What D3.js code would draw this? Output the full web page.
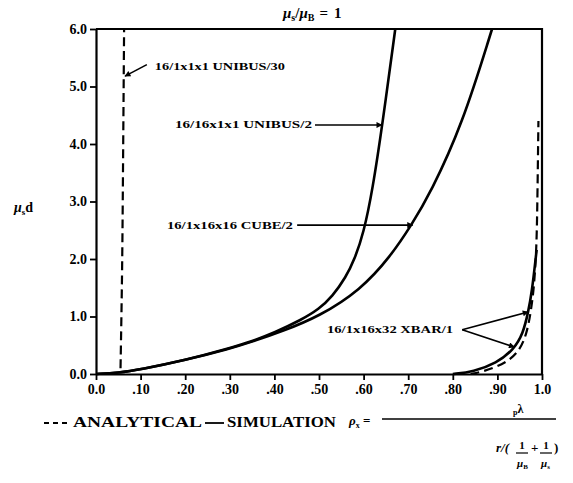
<!DOCTYPE html>
<html>
<head>
<meta charset="utf-8">
<script src="https://cdn.jsdelivr.net/npm/d3@7"></script>
<style>
  body { margin: 0; background: #fff; }
  text { font-family: "Liberation Serif", "DejaVu Serif", serif; font-weight: bold; fill: #000; }
</style>
</head>
<body>
<svg width="573" height="483"></svg>
<script>
// tick values and labels
var xTicks = [0, 0.1, 0.2, 0.3, 0.4, 0.5, 0.6, 0.7, 0.8, 0.9, 1.0];
var xTickLabels = ["0.0", ".10", ".20", ".30", ".40", ".50", ".60", ".70", ".80", ".90", "1.0"];
var yTicks = [0, 1, 2, 3, 4, 5, 6];
var yTickLabels = ["0.0", "1.0", "2.0", "3.0", "4.0", "5.0", "6.0"];

// curves: [rho, mu*d]
var unibus30Analytical = [[0.055, 0.1], [0.057, 1.0], [0.059, 2.0], [0.061, 4.0], [0.063, 6.0]];
var unibus2Sim = [[0, 0], [0.05, 0.02], [0.1, 0.08], [0.2, 0.24], [0.3, 0.45], [0.35, 0.57], [0.4, 0.72],
                  [0.46, 0.94], [0.5, 1.13], [0.53, 1.35], [0.56, 1.68], [0.58, 2.0], [0.6, 2.45],
                  [0.62, 3.2], [0.642, 4.33], [0.671, 6.0]];
var cube2Sim = [[0, 0], [0.05, 0.02], [0.1, 0.08], [0.2, 0.24], [0.3, 0.44], [0.35, 0.56], [0.42, 0.75],
                [0.5, 1.0], [0.593, 1.46], [0.66, 2.04], [0.708, 2.6], [0.75, 3.15], [0.821, 4.33], [0.888, 6.0]];
var xbarSim = [[0.8, 0], [0.846, 0.04], [0.898, 0.19], [0.936, 0.42], [0.958, 0.71], [0.969, 1.08],
               [0.977, 1.4], [0.988, 2.16]];
var xbarAnalytical = [[0.84, 0], [0.868, 0.04], [0.921, 0.19], [0.951, 0.42], [0.966, 0.71], [0.975, 1.08],
                      [0.982, 1.5], [0.988, 2.2], [0.99, 3.2], [0.992, 4.4]];

var svg = d3.select("svg");
var margin = { top: 29, right: 31, bottom: 109, left: 96 };
var width = 573, height = 483;

var x = d3.scaleLinear().domain([0, 1]).range([margin.left, width - margin.right]);
var y = d3.scaleLinear().domain([0, 6]).range([height - margin.bottom, margin.top]);

// arrow head
svg.append("defs").append("marker")
    .attr("id", "head")
    .attr("viewBox", "0 0 10 10")
    .attr("refX", 9).attr("refY", 5)
    .attr("markerWidth", 8).attr("markerHeight", 6)
    .attr("markerUnits", "userSpaceOnUse")
    .attr("orient", "auto")
    .append("path").attr("d", "M0,0L10,5L0,10z").attr("fill", "#000");

// axes
var xAxis = d3.axisBottom(x).tickValues(xTicks).tickFormat((d, i) => xTickLabels[i])
    .tickSizeInner(6).tickSizeOuter(0).tickPadding(4);
var yAxis = d3.axisLeft(y).tickValues(yTicks).tickFormat((d, i) => yTickLabels[i])
    .tickSizeInner(6).tickSizeOuter(0).tickPadding(3);

var gx = svg.append("g").attr("transform", "translate(0," + y(0) + ")").call(xAxis);
var gy = svg.append("g").attr("transform", "translate(" + x(0) + ",0)").call(yAxis);
[gx, gy].forEach(function(g) {
    g.select(".domain").attr("stroke-width", 2.2);
    g.selectAll(".tick line").attr("stroke-width", 1.8);
    g.selectAll(".tick text").style("font-size", "14px")
        .style("font-family", "'Liberation Serif', serif").style("font-weight", "bold");
});

// top and right frame lines
svg.append("path")
    .attr("d", "M" + x(0) + "," + y(6) + "H" + x(1) + "V" + y(0))
    .attr("fill", "none").attr("stroke", "#000").attr("stroke-width", 2.2);

// curves
var line = d3.line().x(d => x(d[0])).y(d => y(d[1])).curve(d3.curveBasis);

var curves = [
    { data: unibus2Sim, dashed: false },
    { data: cube2Sim, dashed: false },
    { data: xbarSim, dashed: false },
    { data: xbarAnalytical, dashed: true },
    { data: unibus30Analytical, dashed: true }
];
svg.append("g").selectAll("path").data(curves).enter().append("path")
    .attr("d", d => line(d.data))
    .attr("fill", "none")
    .attr("stroke", "#000")
    .attr("stroke-width", d => d.dashed ? 2.2 : 2.6)
    .attr("stroke-dasharray", d => d.dashed ? "9,5" : null);

// curve labels with arrows (positions in data units)
var labels = [
    { text: "16/1x1x1 UNIBUS/30", x: 0.132, y: 5.29, w: 130, arrows: [[0.114, 5.38, 0.065, 5.18]] },
    { text: "16/16x1x1 UNIBUS/2", x: 0.177, y: 4.27, w: 137, arrows: [[0.491, 4.33, 0.641, 4.33]] },
    { text: "16/1x16x16 CUBE/2", x: 0.159, y: 2.53, w: 126, arrows: [[0.451, 2.59, 0.71, 2.59]] },
    { text: "16/1x16x32 XBAR/1", x: 0.518, y: 0.71, w: 126,
      arrows: [[0.821, 0.77, 0.969, 1.08], [0.821, 0.77, 0.938, 0.47]] }
];
labels.forEach(function(l) {
    svg.append("text")
        .attr("x", x(l.x)).attr("y", y(l.y))
        .attr("textLength", l.w).attr("lengthAdjust", "spacingAndGlyphs")
        .style("font-size", "11px")
        .text(l.text);
    l.arrows.forEach(function(a) {
        svg.append("line")
            .attr("x1", x(a[0])).attr("y1", y(a[1]))
            .attr("x2", x(a[2])).attr("y2", y(a[3]))
            .attr("stroke", "#000").attr("stroke-width", 1.6)
            .attr("marker-end", "url(#head)");
    });
});

// title
var title = svg.append("text").attr("x", 283).attr("y", 18).style("font-size", "15px");
title.append("tspan").style("font-style", "italic").text("μ");
title.append("tspan").attr("dy", 3).style("font-size", "10px").text("s");
title.append("tspan").attr("dy", -3).text("/");
title.append("tspan").style("font-style", "italic").text("μ");
title.append("tspan").attr("dy", 3).style("font-size", "10px").text("B");
title.append("tspan").attr("dy", -3).attr("dx", 5).text("=");
title.append("tspan").attr("dx", 6).text("1");

// y label
var ylab = svg.append("text").attr("x", 14).attr("y", 212).style("font-size", "14px");
ylab.append("tspan").style("font-style", "italic").text("μ");
ylab.append("tspan").attr("dy", 3).style("font-size", "9px").text("s");
ylab.append("tspan").attr("dy", -3).text("d");

// legend
var ly = 427;
svg.append("line").attr("x1", 44).attr("x2", 70).attr("y1", ly - 4).attr("y2", ly - 4)
    .attr("stroke", "#000").attr("stroke-width", 1.8).attr("stroke-dasharray", "5,4");
svg.append("text").attr("x", 73).attr("y", ly).attr("textLength", 129).attr("lengthAdjust", "spacingAndGlyphs")
    .style("font-size", "15px").text("ANALYTICAL");
svg.append("line").attr("x1", 205).attr("x2", 224).attr("y1", ly - 4).attr("y2", ly - 4)
    .attr("stroke", "#000").attr("stroke-width", 1.8);
svg.append("text").attr("x", 227).attr("y", ly).attr("textLength", 109).attr("lengthAdjust", "spacingAndGlyphs")
    .style("font-size", "15px").text("SIMULATION");

// formula rho_x = p lambda / (r/(1/mu_B + 1/mu_s))
var rho = svg.append("text").attr("x", 349).attr("y", ly - 2).style("font-size", "13px");
rho.append("tspan").style("font-style", "italic").text("ρ");
rho.append("tspan").attr("dy", 3).style("font-size", "8px").text("x");
rho.append("tspan").attr("dy", -3).text(" =");
svg.append("line").attr("x1", 382).attr("x2", 556).attr("y1", 419).attr("y2", 419)
    .attr("stroke", "#000").attr("stroke-width", 1.5);
var num = svg.append("text").attr("x", 513).attr("y", 413).style("font-size", "12px");
num.append("tspan").attr("dy", 2).style("font-size", "8px").text("p");
num.append("tspan").attr("dy", -2).text("λ");
svg.append("text").attr("x", 496).attr("y", 452).style("font-size", "13px")
    .style("font-style", "italic").text("r/(");
svg.append("text").attr("x", 531).attr("y", 452).style("font-size", "13px").text("+");
svg.append("text").attr("x", 554).attr("y", 452).style("font-size", "13px").text(")");
[["B", 522], ["s", 546]].forEach(function(f) {
    svg.append("text").attr("x", f[1]).attr("y", 449).attr("text-anchor", "middle")
        .style("font-size", "11px").text("1");
    svg.append("line").attr("x1", f[1] - 6).attr("x2", f[1] + 6).attr("y1", 453).attr("y2", 453)
        .attr("stroke", "#000").attr("stroke-width", 1.2);
    var m = svg.append("text").attr("x", f[1] - 5).attr("y", 467).style("font-size", "11px");
    m.append("tspan").style("font-style", "italic").text("μ");
    m.append("tspan").attr("dy", 2).style("font-size", "7px").text(f[0]);
});
</script>
</body>
</html>
